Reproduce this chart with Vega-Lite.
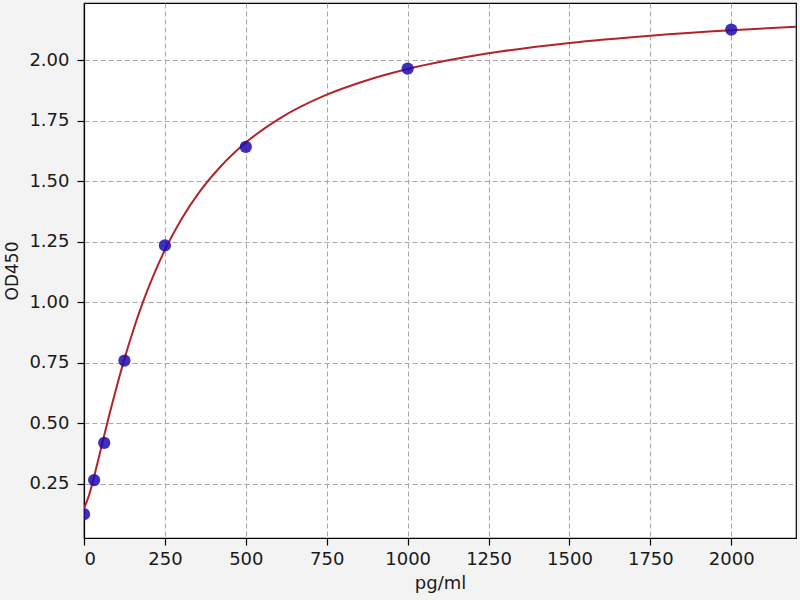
{
  "$schema": "https://vega.github.io/schema/vega-lite/v6.json",
  "width": 712,
  "height": 535,
  "autosize": {"type": "none"},
  "padding": {"left": 84, "top": 3, "right": 4, "bottom": 62},
  "background": "#f3f3f3",
  "datasets": {
    "standards": [
      {"conc": 0, "od": 0.124},
      {"conc": 31.25, "od": 0.265},
      {"conc": 62.5, "od": 0.419},
      {"conc": 125, "od": 0.759},
      {"conc": 250, "od": 1.235},
      {"conc": 500, "od": 1.642},
      {"conc": 1000, "od": 1.966},
      {"conc": 2000, "od": 2.127}
    ],
    "fit": [
      {"conc": 0, "od": 0.147},
      {"conc": 15, "od": 0.2},
      {"conc": 31.25, "od": 0.28},
      {"conc": 45, "od": 0.354},
      {"conc": 62.5, "od": 0.45},
      {"conc": 80, "od": 0.544},
      {"conc": 100, "od": 0.646},
      {"conc": 125, "od": 0.766},
      {"conc": 150, "od": 0.875},
      {"conc": 180, "od": 0.993},
      {"conc": 215, "od": 1.112},
      {"conc": 250, "od": 1.216},
      {"conc": 300, "od": 1.341},
      {"conc": 358, "od": 1.458},
      {"conc": 420, "od": 1.558},
      {"conc": 500, "od": 1.66},
      {"conc": 600, "od": 1.756},
      {"conc": 750, "od": 1.858},
      {"conc": 875, "od": 1.918},
      {"conc": 1000, "od": 1.964},
      {"conc": 1250, "od": 2.029},
      {"conc": 1500, "od": 2.072},
      {"conc": 1750, "od": 2.102},
      {"conc": 2000, "od": 2.1245},
      {"conc": 2200, "od": 2.1385}
    ]
  },
  "layer": [
    {
      "data": {"name": "fit"},
      "mark": {
        "type": "line",
        "color": "#b3232a",
        "strokeWidth": 2,
        "interpolate": "monotone",
        "clip": true
      },
      "encoding": {
        "x": {
          "field": "conc",
          "type": "quantitative",
          "title": "pg/ml",
          "scale": {"domain": [0, 2200], "nice": false, "zero": false},
          "axis": {
            "values": [0, 250, 500, 750, 1000, 1250, 1500, 1750, 2000],
            "format": "d",
            "tickSize": 7,
            "labelPadding": 5,
            "titlePadding": 6
          }
        },
        "y": {
          "field": "od",
          "type": "quantitative",
          "title": "OD450",
          "scale": {"domain": [0.0255, 2.237], "nice": false, "zero": false},
          "axis": {
            "values": [0.25, 0.5, 0.75, 1.0, 1.25, 1.5, 1.75, 2.0],
            "format": ".2f",
            "tickSize": 7,
            "labelPadding": 8,
            "titlePadding": 7,
            "titleFontSize": 17
          }
        }
      }
    },
    {
      "data": {"name": "standards"},
      "mark": {
        "type": "circle",
        "color": "#1f0aae",
        "opacity": 0.85,
        "size": 150,
        "clip": true
      },
      "encoding": {
        "x": {"field": "conc", "type": "quantitative"},
        "y": {"field": "od", "type": "quantitative"}
      }
    }
  ],
  "config": {
    "view": {"fill": "white", "stroke": "#000000", "strokeWidth": 1.2},
    "font": "DejaVu Sans",
    "axis": {
      "labelFont": "DejaVu Sans",
      "titleFont": "DejaVu Sans",
      "labelFontSize": 18,
      "titleFontSize": 18,
      "titleFontWeight": "normal",
      "labelColor": "#1a1a1a",
      "titleColor": "#1a1a1a",
      "tickColor": "#000000",
      "tickWidth": 1.2,
      "domain": true,
      "domainColor": "#000000",
      "domainWidth": 1.2,
      "grid": true,
      "gridColor": "#a8a8a8",
      "gridDash": [5, 3],
      "gridWidth": 1,
      "gridOpacity": 1
    }
  }
}
